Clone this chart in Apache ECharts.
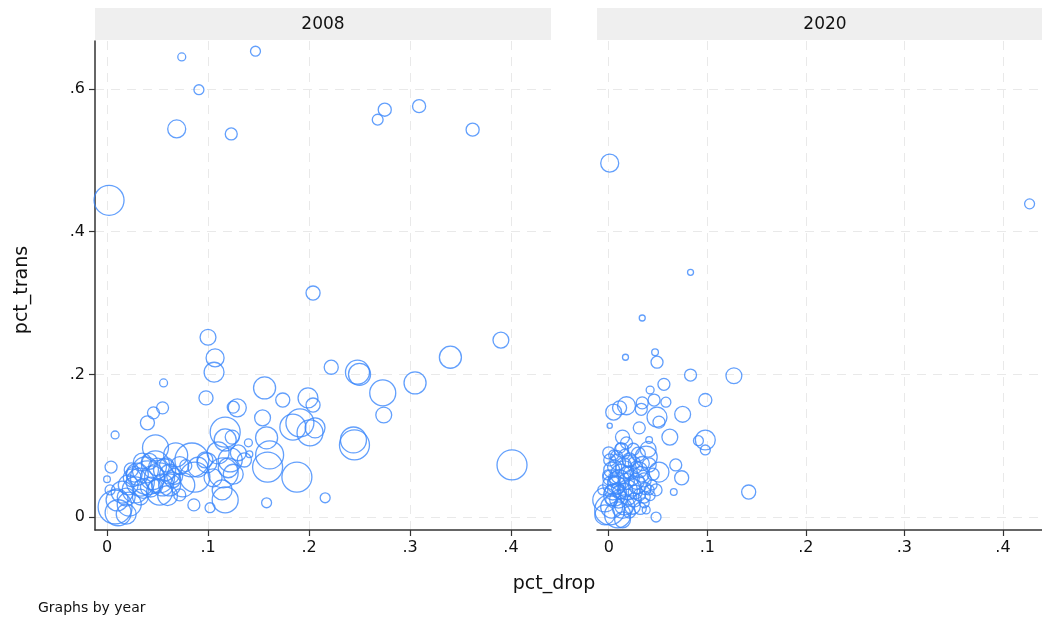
<!DOCTYPE html>
<html>
<head>
<meta charset="utf-8">
<script src="https://cdn.jsdelivr.net/npm/echarts@6/dist/echarts.min.js"></script>
<style>html,body{margin:0;padding:0;background:#fff}#c{width:1042px;height:623px}</style>
</head>
<body>
<div id="c"></div>
<script>
// ---- data ----
const panelTitles = ['2008', '2020'];
const xTickValues = [0, 0.1, 0.2, 0.3, 0.4];
const yTickValues = [0, 0.2, 0.4, 0.6];
const xTickLabels = ['0', '.1', '.2', '.3', '.4'];
const yTickLabels = ['0', '.2', '.4', '.6'];

const drop2008 = [0.074,0.147,0.091,0.069,0.123,0.002,0.268,0.275,0.309,0.362,0.204,0.100,0.107,0.106,0.222,0.248,0.250,0.340,0.390,0.305,0.273,0.274,0.401,0.216,0.056,0.008,0.098,0.040,0.046,0.055,0.156,0.174,0.199,0.204,0.129,0.125,0.117,0.117,0.154,0.140,0.158,0.161,0.159,0.188,0.184,0.191,0.201,0.206,0.115,0.117,0.102,0.158,0.099,0.245,0.244,0.048,0.004,0.000,0.011,0.008,0.086,0.084,0.087,0.048,0.052,0.057,0.038,0.033,0.028,0.021,0.010,0.003,0.043,0.052,0.067,0.072,0.097,0.122,0.120,0.114,0.136,0.124,0.019,0.033,0.024,0.062,0.019,0.040,0.068,0.078,0.059,0.035,0.048,0.072,0.027,0.141,
  0.030,0.045,0.055,0.062,0.036,0.050,0.025,0.065,0.042,0.015,0.022,0.110,0.125,0.105,0.130,0.090,0.075,0.060];
const trans2008 = [0.645,0.653,0.599,0.544,0.537,0.444,0.557,0.571,0.576,0.543,0.314,0.252,0.223,0.203,0.210,0.203,0.200,0.224,0.248,0.188,0.174,0.143,0.073,0.027,0.188,0.115,0.167,0.132,0.146,0.153,0.181,0.164,0.167,0.157,0.153,0.154,0.119,0.108,0.139,0.104,0.111,0.087,0.070,0.056,0.126,0.132,0.118,0.125,0.062,0.024,0.013,0.020,0.076,0.101,0.108,0.097,0.070,0.053,0.006,0.014,0.017,0.080,0.056,0.073,0.055,0.066,0.066,0.049,0.038,0.045,0.024,0.038,0.042,0.035,0.057,0.072,0.080,0.080,0.069,0.038,0.080,0.112,0.028,0.028,0.066,0.045,0.004,0.055,0.087,0.072,0.073,0.077,0.043,0.031,0.060,0.088,
  0.060,0.055,0.045,0.060,0.040,0.070,0.055,0.052,0.078,0.035,0.018,0.090,0.060,0.055,0.090,0.070,0.045,0.030];
const weight2008 = [7,11,11,36,16,100,13,19,19,19,22,28,36,44,22,64,54,54,28,54,75,28,100,11,7,7,22,22,16,16,54,22,44,22,36,16,100,54,28,7,54,87,100,100,75,87,75,44,100,75,11,11,44,100,75,75,16,5,75,128,16,128,100,87,100,54,75,87,75,44,54,11,44,75,28,36,28,64,44,44,22,22,36,28,22,54,44,128,64,16,22,36,22,16,28,5,
  54,64,54,44,44,36,36,28,28,54,64,54,44,36,28,44,64,44];

const drop2020 = [0.001,0.427,0.083,0.034,0.017,0.047,0.049,0.083,0.127,0.056,0.042,0.098,0.058,0.046,0.034,0.033,0.018,0.005,0.011,0.049,0.051,0.075,0.001,0.031,0.062,0.014,0.018,0.041,0.098,0.091,0.098,0.068,0.074,0.066,0.142,0.048,0.048,0.038,0.051,0.038,0.001,0.009,-0.004,0.006,0.016,0.003,0.011,0.003,0.009,0.016,0.023,0.019,0.029,0.026,0.031,0.036,0.021,0.001,-0.001,0.013,0.041,0.003,0.021,-0.006,0.031,0.006,0.019,0.011,0.026,0.036,0.014,-0.004,0.041,0.005,
  0.002,0.008,0.012,0.018,0.024,0.006,0.015,0.022,0.028,0.004,0.010,0.020,0.027,0.033,0.037,0.000,0.008,0.016,0.025,0.030,0.045,0.042,0.014,0.003,0.024,0.032,0.009,0.017,0.034,0.040,0.012,0.028,0.005,0.020,0.036,0.044];
const trans2020 = [0.496,0.439,0.343,0.279,0.224,0.231,0.217,0.199,0.198,0.186,0.178,0.164,0.161,0.164,0.160,0.151,0.156,0.147,0.153,0.140,0.133,0.144,0.128,0.125,0.112,0.112,0.104,0.108,0.108,0.107,0.094,0.073,0.055,0.035,0.035,0.038,0.000,0.010,0.063,0.084,0.010,0.003,0.024,0.031,0.017,0.045,0.052,0.066,0.077,0.066,0.055,0.038,0.045,0.024,0.066,0.052,0.080,0.080,0.059,0.094,0.073,0.024,0.007,0.038,0.031,0.055,0.063,0.035,0.076,0.020,-0.004,0.003,0.038,0.087,
  0.055,0.045,0.060,0.050,0.042,0.070,0.072,0.062,0.070,0.035,0.025,0.028,0.035,0.060,0.040,0.090,0.085,0.088,0.095,0.088,0.060,0.030,0.012,0.014,0.015,0.012,0.040,0.038,0.075,0.095,0.097,0.050,0.050,0.078,0.028,0.045];
const weight2020 = [36,11,4,4,4,5,16,16,28,16,7,19,11,16,16,16,36,28,22,44,16,28,3,16,28,22,16,5,44,11,11,16,22,5,22,16,11,7,44,54,100,75,64,54,44,36,44,28,28,36,28,44,36,22,28,22,22,16,11,22,22,16,16,11,16,16,16,22,16,11,28,44,11,11,
  28,36,44,28,36,22,28,22,16,28,36,28,22,28,16,16,16,11,16,22,16,11,44,54,28,16,16,22,22,28,11,28,16,16,16,11];

// ---- chart ----
const FONT = 'DejaVu Sans';
const blue = '#3b87fb';
const gridLine = { show: true, lineStyle: { color: '#e9e9e9', width: 1, type: [9, 7] } };

function zip(xs, ys, ws) { return xs.map((x, i) => [x, ys[i], ws[i]]); }
function fmt(vals, labels) { return v => { const i = vals.findIndex(t => Math.abs(t - v) < 1e-9); return i >= 0 ? labels[i] : ''; }; }

const grids = [
  { left: 95, top: 41, width: 456, height: 489 },
  { left: 597, top: 41, width: 456, height: 489 }
];

const xAxes = grids.map((g, i) => ({
  type: 'value', gridIndex: i, min: -0.0119, max: 0.4396,
  axisLine: { show: true, onZero: false, lineStyle: { color: '#333', width: 1.5 } },
  axisTick: { show: true, length: 6, customValues: xTickValues, lineStyle: { color: '#333', width: 1.2 } },
  axisLabel: { show: true, customValues: xTickValues, formatter: fmt(xTickValues, xTickLabels), fontFamily: FONT, fontSize: 16, color: '#111', margin: 10 },
  splitLine: gridLine
}));

const yAxes = grids.map((g, i) => ({
  type: 'value', gridIndex: i, min: -0.0182, max: 0.6673,
  axisLine: { show: i === 0, onZero: false, lineStyle: { color: '#333', width: 1.5 } },
  axisTick: { show: i === 0, length: 6, customValues: yTickValues, lineStyle: { color: '#333', width: 1.2 } },
  axisLabel: { show: i === 0, customValues: yTickValues, formatter: fmt(yTickValues, yTickLabels), fontFamily: FONT, fontSize: 16, color: '#111', margin: 10 },
  splitLine: gridLine
}));

const mkSeries = (data, i) => ({
  type: 'scatter', xAxisIndex: i, yAxisIndex: i, data: data,
  symbol: 'circle',
  symbolSize: v => 3 * Math.sqrt(v[2]),
  itemStyle: { color: 'rgba(0,0,0,0)', borderColor: blue, borderWidth: 1.3 },
  emphasis: { disabled: true },
  clip: true
});

const graphics = [];
grids.forEach((g, i) => {
  graphics.push({ type: 'rect', left: g.left, top: 8, shape: { width: g.width, height: 32 }, style: { fill: '#efefef' }, silent: true });
  graphics.push({ type: 'text', x: g.left + g.width / 2, y: 25, style: { text: panelTitles[i], font: '17px ' + FONT, fill: '#111', textAlign: 'center', textVerticalAlign: 'middle' }, silent: true });
});
graphics.push({ type: 'text', x: 554, y: 584, style: { text: 'pct_drop', font: '19px ' + FONT, fill: '#111', textAlign: 'center', textVerticalAlign: 'middle' } });
graphics.push({ type: 'text', x: 22, y: 290, rotation: Math.PI / 2, style: { text: 'pct_trans', font: '19px ' + FONT, fill: '#111', textAlign: 'center', textVerticalAlign: 'middle' } });
graphics.push({ type: 'text', x: 38, y: 608, style: { text: 'Graphs by year', font: '14px ' + FONT, fill: '#111', textAlign: 'left', textVerticalAlign: 'middle' } });

const chart = echarts.init(document.getElementById('c'), null, { renderer: 'canvas' });
chart.setOption({
  animation: false,
  backgroundColor: '#fff',
  grid: grids,
  xAxis: xAxes,
  yAxis: yAxes,
  series: [mkSeries(zip(drop2008, trans2008, weight2008), 0), mkSeries(zip(drop2020, trans2020, weight2020), 1)],
  graphic: graphics
});
</script>
</body>
</html>
